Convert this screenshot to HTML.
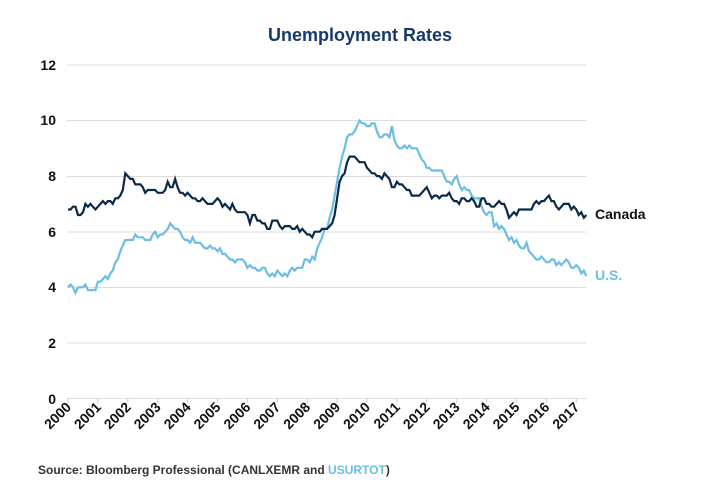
<!DOCTYPE html>
<html><head><meta charset="utf-8"><style>
html,body{margin:0;padding:0;background:#fff;}
svg{display:block;font-family:"Liberation Sans",sans-serif;}
</style></head><body>
<svg id="s" width="720" height="500" xmlns="http://www.w3.org/2000/svg">
<text x="360" y="41" text-anchor="middle" font-size="18" font-weight="bold" fill="#163a6a">Unemployment Rates</text>
<g stroke="#dcdcdc" stroke-width="1">
<line x1="67" x2="586" y1="65" y2="65"/><line x1="67" x2="586" y1="120.5" y2="120.5"/>
<line x1="67" x2="586" y1="176.5" y2="176.5"/><line x1="67" x2="586" y1="232" y2="232"/>
<line x1="67" x2="586" y1="287.5" y2="287.5"/><line x1="67" x2="586" y1="343" y2="343"/>
<line x1="67" x2="586" y1="398.5" y2="398.5"/>
</g>
<g font-size="14" font-weight="bold" fill="#111" text-anchor="end">
<text x="56" y="70">12</text><text x="56" y="125">10</text><text x="56" y="181">8</text>
<text x="56" y="237">6</text><text x="56" y="292">4</text><text x="56" y="348">2</text><text x="56" y="404">0</text>
</g>
<g id="ticks" stroke="#ccc"></g>
<g id="xl" font-size="14" font-weight="bold" fill="#111" text-anchor="end"></g>
<polyline id="us" fill="none" stroke="#6bbde3" stroke-width="2.2"/>
<polyline id="ca" fill="none" stroke="#0b2a4a" stroke-width="2.2"/>
<text x="595" y="219" font-size="14" font-weight="bold" fill="#111">Canada</text>
<text x="595" y="280" font-size="14" font-weight="bold" fill="#6bbde3">U.S.</text>
<text x="38" y="474" font-size="12" font-weight="bold" fill="#333">Source: Bloomberg Professional (CANLXEMR and <tspan fill="#6bbde3">USURTOT</tspan>)</text>
</svg>
<script>
var us=[4.0,4.1,4.0,3.8,4.0,4.0,4.0,4.1,3.9,3.9,3.9,3.9,4.2,4.2,4.3,4.4,4.3,4.5,4.6,4.9,5.0,5.3,5.5,5.7,5.7,5.7,5.7,5.9,5.8,5.8,5.8,5.7,5.7,5.7,5.9,6.0,5.8,5.9,5.9,6.0,6.1,6.3,6.2,6.1,6.1,6.0,5.8,5.7,5.7,5.6,5.8,5.6,5.6,5.6,5.5,5.4,5.4,5.5,5.4,5.4,5.3,5.4,5.2,5.2,5.1,5.0,5.0,4.9,5.0,5.0,5.0,4.9,4.7,4.8,4.7,4.7,4.6,4.6,4.7,4.7,4.5,4.4,4.5,4.4,4.6,4.5,4.4,4.5,4.4,4.6,4.7,4.6,4.7,4.7,4.7,5.0,5.0,4.9,5.1,5.0,5.4,5.6,5.8,6.1,6.1,6.5,6.8,7.3,7.8,8.3,8.7,9.0,9.4,9.5,9.5,9.6,9.8,10.0,9.9,9.9,9.8,9.8,9.9,9.9,9.6,9.4,9.4,9.5,9.5,9.4,9.8,9.3,9.1,9.0,9.0,9.1,9.0,9.1,9.0,9.0,9.0,8.8,8.6,8.5,8.3,8.3,8.2,8.2,8.2,8.2,8.2,8.0,7.8,7.8,7.7,7.9,8.0,7.7,7.5,7.6,7.5,7.5,7.3,7.2,7.2,7.2,6.9,6.7,6.6,6.7,6.7,6.2,6.3,6.1,6.2,6.1,5.9,5.7,5.8,5.6,5.7,5.5,5.4,5.4,5.6,5.3,5.2,5.1,5.0,5.0,5.1,5.0,4.9,4.9,5.0,5.0,4.8,4.9,4.8,4.9,5.0,4.9,4.7,4.7,4.8,4.7,4.5,4.6,4.4];
var ca=[6.8,6.8,6.9,6.9,6.6,6.6,6.7,7.0,6.9,7.0,6.9,6.8,6.9,7.0,7.1,7.0,7.1,7.1,7.0,7.2,7.2,7.3,7.5,8.1,8.0,7.9,7.9,7.7,7.7,7.7,7.6,7.4,7.5,7.5,7.5,7.5,7.4,7.4,7.4,7.5,7.8,7.6,7.6,7.9,7.6,7.4,7.4,7.3,7.4,7.3,7.2,7.2,7.1,7.1,7.2,7.1,7.0,7.0,7.0,7.1,7.2,7.1,6.9,7.0,6.9,6.8,7.0,6.8,6.7,6.7,6.7,6.7,6.6,6.3,6.6,6.6,6.4,6.4,6.3,6.3,6.1,6.1,6.4,6.4,6.4,6.2,6.1,6.2,6.2,6.2,6.1,6.1,6.2,6.0,6.1,6.0,5.9,5.9,5.8,6.0,6.0,6.0,6.1,6.1,6.1,6.2,6.3,6.6,7.2,7.8,8.0,8.1,8.5,8.7,8.7,8.7,8.6,8.5,8.5,8.5,8.3,8.2,8.1,8.1,8.0,8.0,7.9,8.1,8.0,7.9,7.6,7.6,7.8,7.7,7.7,7.6,7.5,7.5,7.3,7.3,7.3,7.3,7.4,7.5,7.6,7.4,7.2,7.3,7.3,7.2,7.3,7.3,7.3,7.4,7.2,7.1,7.1,7.0,7.2,7.2,7.1,7.1,7.2,7.1,6.9,6.9,7.2,7.2,7.0,7.0,6.9,6.9,7.0,7.1,7.0,7.0,6.8,6.5,6.6,6.7,6.6,6.8,6.8,6.8,6.8,6.8,6.8,7.0,7.1,7.0,7.1,7.1,7.2,7.3,7.1,7.1,6.9,6.8,6.9,7.0,7.0,7.0,6.8,6.9,6.8,6.6,6.7,6.5,6.6];
var X0=68,PY=29.9,Y0=398.5,U=27.8;
function pts(a){return a.map(function(v,i){return (X0+i/12*PY).toFixed(1)+","+(Y0-v*U).toFixed(1)}).join(" ");}
document.getElementById("us").setAttribute("points",pts(us));
document.getElementById("ca").setAttribute("points",pts(ca));
var ns="http://www.w3.org/2000/svg",xl=document.getElementById("xl"),tk=document.getElementById("ticks");
for(var y=0;y<=17;y++){var x=X0+y*PY;
var l=document.createElementNS(ns,"line");l.setAttribute("x1",x);l.setAttribute("x2",x);l.setAttribute("y1",398.5);l.setAttribute("y2",403);tk.appendChild(l);
var t=document.createElementNS(ns,"text");t.setAttribute("transform","translate("+(x+4)+",408) rotate(-45)");t.textContent=2000+y;xl.appendChild(t);}
</script>
</body></html>
